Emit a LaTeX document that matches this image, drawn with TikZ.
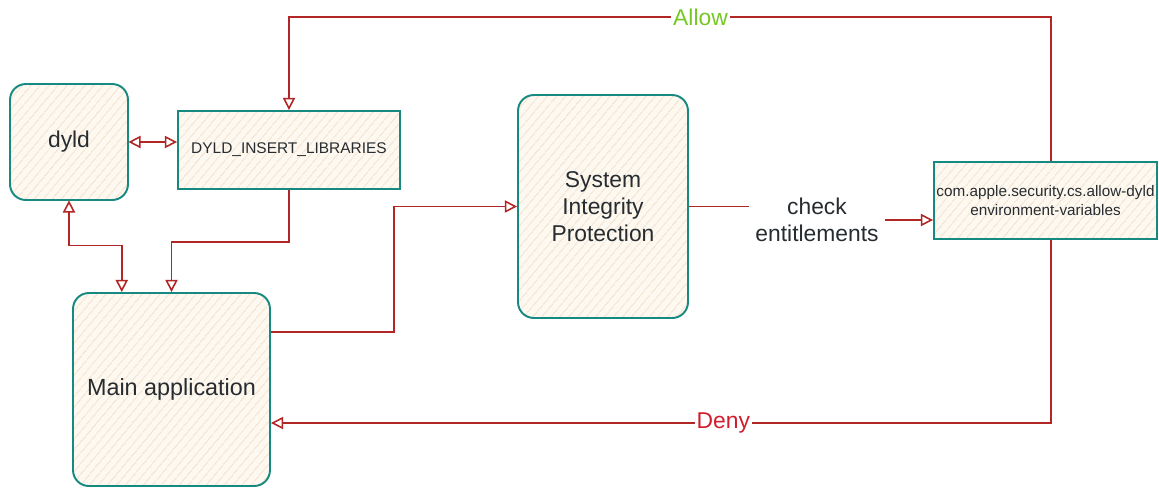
\documentclass[tikz,border=0pt]{standalone}
\usepackage{fontspec}
\setmainfont{Liberation Sans}
\usetikzlibrary{arrows.meta, calc, positioning, patterns.meta}
\definecolor{boxteal}{RGB}{22,138,128}
\definecolor{arrowred}{RGB}{178,38,38}
\definecolor{hatchbg}{RGB}{253,248,240}
\definecolor{hatchline}{RGB}{240,216,188}
\definecolor{allowgreen}{RGB}{118,200,36}
\definecolor{denyred}{RGB}{208,30,44}
\definecolor{textgray}{RGB}{38,44,48}

\begin{document}
\begin{tikzpicture}[x=0.02cm, y=-0.02cm, >={Triangle[open, length=7pt, width=7pt]},
    box/.style={draw=boxteal, line width=1.1pt, inner sep=0pt, align=center, text=textgray,
        preaction={fill=hatchbg},
        pattern={Lines[angle=50, distance=4pt, line width=0.4pt]}, pattern color=hatchline},
    roundbox/.style={box, rounded corners=9pt},
    flow/.style={arrowred, line width=0.9pt},
    hand/.style={font=\fontsize{13}{15}\selectfont, text=textgray, align=center}]
    \useasboundingbox (0,0) rectangle (1159,488);

    % Boxes
    \node[roundbox, minimum width=2.36cm, minimum height=2.32cm, font=\fontsize{13}{15}\selectfont] (dyld) at (69,142) {dyld};
    \node[box, minimum width=4.44cm, minimum height=1.56cm, font=\fontsize{8.8}{10.5}\selectfont] (ins) at (289,150) {DYLD\_INSERT\_LIBRARIES};
    \node[roundbox, minimum width=3.4cm, minimum height=4.46cm, font=\fontsize{13}{15.5}\selectfont] (sip) at (603,206.5) {System\\Integrity\\Protection};
    \node[box, minimum width=4.46cm, minimum height=1.54cm, font=\fontsize{8.7}{10.5}\selectfont] (ent) at (1045.5,200.5) {com.apple.security.cs.allow-dyld\\environment-variables};
    \node[roundbox, minimum width=3.94cm, minimum height=3.86cm, font=\fontsize{13.3}{15}\selectfont] (mainapp) at (171.5,389.5) {Main application};

    % Check label
    \node[hand] (check) at (817,220) {check\\entitlements};

    % dyld and its variable
    \draw[flow, <->] (dyld.east) -- (dyld.east -| ins.west);
    \draw[flow, <->] (dyld.south) -- ++(0,45) -| ($(mainapp.north west)!0.25!(mainapp.north east)$);
    \draw[flow, ->] (ins.south) -- ++(0,52) -| (mainapp.north);

    % Launch goes through SIP
    \draw[flow, ->] ([yshift=1.15cm]mainapp.east) -- ++(123,0) |- (sip.west);
    \draw[flow] (sip.east) -- (sip.east -| check.west);
    \draw[flow, ->] (check.east) -- (check.east -| ent.west);

    % Allow / Deny
    \draw[flow, ->] ([xshift=0.11cm]ent.north) |- node[pos=0.73, fill=white, inner sep=1pt, text=allowgreen, font=\fontsize{13}{15}\selectfont] (allow) {Allow} (ins.north |- 0,17) -- (ins.north);
    \draw[flow, ->] ([xshift=0.11cm]ent.south) |- node[pos=0.71, fill=white, inner sep=1pt, text=denyred, font=\fontsize{13}{15}\selectfont] (deny) {Deny} ([yshift=-0.67cm]mainapp.east);
\end{tikzpicture}
\end{document}
